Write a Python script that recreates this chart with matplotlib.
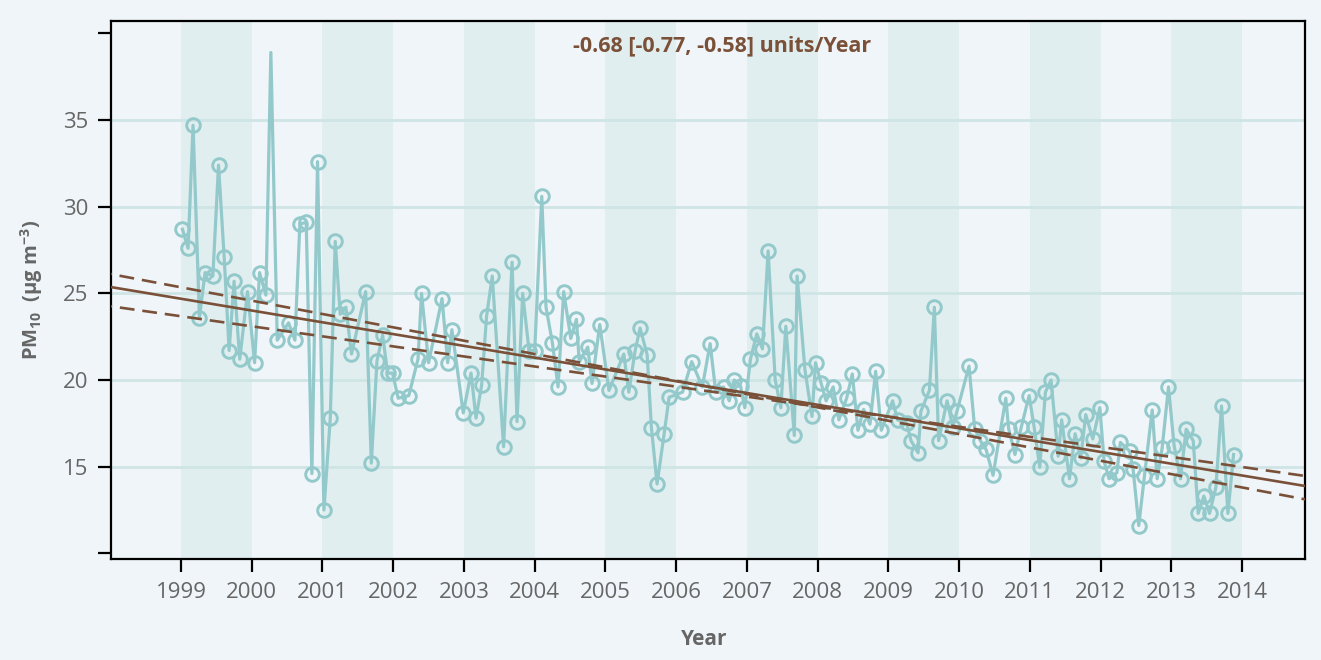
import matplotlib
matplotlib.use('Agg')
import matplotlib.pyplot as plt
import numpy as np

plt.rcParams['font.family'] = ['Open Sans', 'DejaVu Sans']
plt.rcParams['mathtext.fontset'] = 'custom'
plt.rcParams['mathtext.rm'] = 'Open Sans:bold'
plt.rcParams['mathtext.it'] = 'Open Sans:bold'
plt.rcParams['mathtext.bf'] = 'Open Sans:bold'

# Fechas (años decimales) y valores de PM10
years = [1999.02, 1999.10, 1999.17, 1999.26, 1999.34, 1999.45, 1999.53, 1999.61, 1999.68, 1999.75, 1999.83, 1999.94,
         2000.04, 2000.11, 2000.20, 2000.27, 2000.36, 2000.52, 2000.61, 2000.68, 2000.77, 2000.85, 2000.93,
         2001.02, 2001.11, 2001.18, 2001.25, 2001.33, 2001.41, 2001.61, 2001.69, 2001.77, 2001.85, 2001.92, 2001.99,
         2002.07, 2002.22, 2002.35, 2002.40, 2002.50, 2002.69, 2002.77, 2002.83, 2002.99,
         2003.10, 2003.17, 2003.25, 2003.32, 2003.40, 2003.56, 2003.68, 2003.75, 2003.83, 2003.92, 2004.00,
         2004.10, 2004.16, 2004.25, 2004.33, 2004.41, 2004.51, 2004.59, 2004.63, 2004.75, 2004.81, 2004.92,
         2005.05, 2005.26, 2005.33, 2005.42, 2005.49, 2005.59, 2005.65, 2005.73, 2005.83, 2005.90,
         2006.09, 2006.22, 2006.37, 2006.48, 2006.56, 2006.67, 2006.75, 2006.82, 2006.91, 2006.97,
         2007.05, 2007.14, 2007.22, 2007.30, 2007.40, 2007.48, 2007.55, 2007.67, 2007.71, 2007.82, 2007.92, 2007.97,
         2008.05, 2008.12, 2008.22, 2008.30, 2008.41, 2008.49, 2008.57, 2008.65, 2008.74, 2008.82, 2008.90,
         2009.06, 2009.13, 2009.26, 2009.32, 2009.42, 2009.46, 2009.58, 2009.65, 2009.71, 2009.83, 2009.91, 2009.97,
         2010.14, 2010.22, 2010.30, 2010.38, 2010.48, 2010.66, 2010.70, 2010.79, 2010.88, 2010.99,
         2011.06, 2011.14, 2011.22, 2011.30, 2011.40, 2011.45, 2011.56, 2011.64, 2011.72, 2011.79, 2011.89, 2011.99,
         2012.05, 2012.12, 2012.23, 2012.28, 2012.41, 2012.46, 2012.54, 2012.62, 2012.73, 2012.80, 2012.87, 2012.96,
         2013.04, 2013.13, 2013.21, 2013.31, 2013.38, 2013.46, 2013.54, 2013.63, 2013.71, 2013.80, 2013.88]
pm10 = [28.7, 27.6, 34.7, 23.6, 26.2, 26.0, 32.4, 27.1, 21.7, 25.7, 21.2, 25.1,
        21.0, 26.2, 24.9, 38.9, 22.3, 23.3, 22.3, 29.0, 29.1, 14.6, 32.6,
        12.5, 17.8, 28.0, 23.8, 24.2, 21.5, 25.1, 15.2, 21.1, 22.6, 20.4, 20.4,
        18.95, 19.1, 21.2, 25.0, 21.0, 24.7, 21.0, 22.9, 18.1,
        20.4, 17.8, 19.7, 23.7, 26.0, 16.15, 26.8, 17.6, 25.0, 21.7, 21.7,
        30.6, 24.2, 22.15, 19.6, 25.1, 22.4, 23.5, 21.05, 21.9, 19.8, 23.2,
        19.4, 21.5, 19.3, 21.7, 23.0, 21.45, 17.25, 14.0, 16.9, 19.0,
        19.3, 21.06, 19.6, 22.1, 19.3, 19.6, 18.8, 20.0, 19.65, 18.4,
        21.2, 22.66, 21.8, 27.45, 20.0, 18.4, 23.1, 16.8, 26.0, 20.6, 17.9, 21.0,
        19.8, 18.8, 19.6, 17.7, 18.95, 20.35, 17.1, 18.3, 17.45, 20.5, 17.1,
        18.8, 17.7, 17.5, 16.5, 15.8, 18.2, 19.4, 24.2, 16.5, 18.8, 17.3, 18.2,
        20.8, 17.2, 16.5, 16.0, 14.5, 18.95, 17.2, 15.7, 17.3, 19.1,
        17.3, 14.96, 19.3, 20.0, 15.6, 17.7, 14.3, 16.9, 15.5, 18.0, 16.6, 18.4,
        15.3, 14.3, 14.65, 16.4, 15.9, 14.85, 11.6, 14.46, 18.27, 14.3, 16.06, 19.6,
        16.2, 14.3, 17.16, 16.5, 12.3, 13.3, 12.3, 13.8, 18.5, 12.3, 15.7]
no_marker = [15]  # el pico de 2000 no lleva círculo

# Tendencia Theil-Sen: pendiente e intercepto (valor en 2006.0)
slope, slope_lo, slope_hi = -0.68, -0.77, -0.58
level, level_lo, level_hi = 19.93, 19.96, 19.62
trend_text = '-0.68 [-0.77, -0.58] units/Year'

year_ticks = list(range(1999, 2015))
y_ticks = [10, 15, 20, 25, 30, 35, 40]
y_labels = ['', '15', '20', '25', '30', '35', '']

bg = '#EFF5F8'
band = '#E0EEEF'
grid = '#CFE4E5'
teal = '#93C9CA'
brown = '#7A5038'
gray = '#666666'

fig = plt.figure(figsize=(13.21, 6.60), dpi=100, facecolor=bg)
ax = fig.add_axes([111 / 1321, 1 - 559 / 660, 1194 / 1321, 538 / 660])
ax.set_facecolor(bg)

# Bandas de años alternos
for y in year_ticks[:-1:2]:
    ax.axvspan(y, y + 1, color=band, lw=0, zorder=0)
for v in [15, 20, 25, 30, 35]:
    ax.axhline(v, color=grid, lw=2, zorder=1)

# Serie observada
marks = [i for i in range(len(pm10)) if i not in no_marker]
ax.plot(years, pm10, color=teal, lw=2.3, marker='o', ms=9.8, mfc='none',
        mec=teal, mew=2.1, markevery=marks, zorder=3)

# Recta de tendencia y su intervalo
xl = np.array([1997.5, 2015.5])
ax.plot(xl, level + slope * (xl - 2006), color=brown, lw=1.9, zorder=4)
ax.plot(xl, level_lo + slope_lo * (xl - 2006), color=brown, lw=1.9, ls=(0, (5.6, 3)), zorder=4)
ax.plot(xl, level_hi + slope_hi * (xl - 2006), color=brown, lw=1.9, ls=(0, (5.6, 3)), zorder=4)

ax.text(0.512, 0.953, trend_text, transform=ax.transAxes, ha='center', va='center',
        fontsize=15.5, fontweight='bold', color=brown, zorder=5)

ax.set_xlim(1998.01, 2014.89)
ax.set_ylim(9.67, 40.72)
ax.set_xticks(year_ticks)
ax.set_xticklabels([str(y) for y in year_ticks])
ax.set_yticks(y_ticks)
ax.set_yticklabels(y_labels)
ax.tick_params(axis='both', length=9.5, width=1.6, color='black', labelcolor=gray,
               labelsize=16, pad=7)

for s in ax.spines.values():
    s.set_color('black')
    s.set_linewidth(1.6)

ax.set_ylabel(r'PM$_{10}$  (μg m$^{-3}$)', fontsize=14.5, fontweight='bold', color=gray)
ax.set_xlabel('Year', fontsize=15, fontweight='bold', color=gray)
ax.yaxis.set_label_coords(-0.055, 0.5)
ax.xaxis.set_label_coords(0.497, -0.13)

fig.savefig('out.png', dpi=100, facecolor=bg)
